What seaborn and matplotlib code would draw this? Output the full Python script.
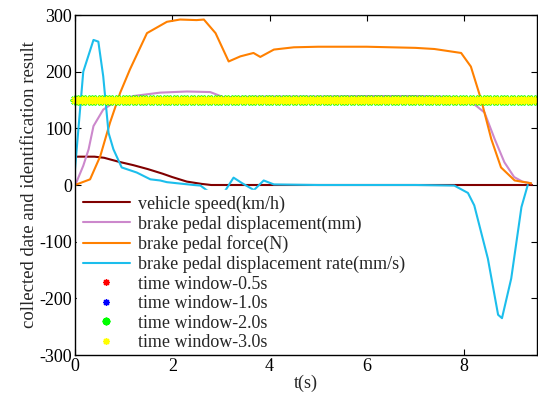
import numpy as np
import matplotlib
matplotlib.use("Agg")
import matplotlib.pyplot as plt
import seaborn as sns

# ---- data ----
speed_t = [0, 0.4, 0.6, 0.9, 1.2, 1.5, 1.8, 2.0, 2.3, 2.6, 2.8, 9.4]
speed_v = [50, 50, 48, 41, 35, 28, 20, 14, 6, 2, 0, 0]

disp_t = [0, 0.03, 0.17, 0.28, 0.38, 0.58, 0.79, 1.2, 1.75, 2.3, 2.78, 3.05, 4.0, 5.0,
          6.0, 7.0, 7.87, 8.1, 8.42, 8.63, 8.83, 9.03, 9.2, 9.38]
disp_v = [0, 5, 34, 63, 104, 133, 145, 157, 163, 165, 164, 155, 156, 156,
          157, 157, 155, 150, 128, 81, 40, 14, 6, 3]

force_t = [0, 0.31, 0.52, 0.72, 0.93, 1.13, 1.48, 1.89, 2.16, 2.5, 2.65, 2.89, 3.16, 3.4,
           3.67, 3.81, 4.09, 4.5, 5.0, 5.5, 6.0, 6.5, 7.0, 7.39, 7.94, 8.14, 8.35, 8.56,
           8.76, 9.04, 9.38]
force_v = [0, 10, 51, 110, 163, 204, 268, 288, 292, 291, 292, 268, 218, 227,
           233, 226, 239, 243, 244, 244, 244, 243, 242, 240, 233, 209, 151, 81,
           31, 8, 3]

rate_t = [0, 0.17, 0.38, 0.48, 0.58, 0.69, 0.79, 0.96, 1.27, 1.55, 1.75, 1.89, 2.44, 2.58,
          2.72, 2.9, 3.09, 3.26, 3.44, 3.68, 3.88, 4.09, 5.0, 6.0, 7.0, 7.8, 8.08, 8.21,
          8.49, 8.7, 8.78, 8.97, 9.18, 9.31]
rate_v = [28, 200, 256, 253, 192, 92, 63, 31, 22, 10, 8, 5, 0, -1,
          -10, -15, -10, 13, 3, -9, 8, 1, 0, 0, 0, -1, -14, -36,
          -130, -229, -235, -165, -39, 0]

window_labels = ["time window-0.5s", "time window-1.0s", "time window-2.0s", "time window-3.0s"]
window_colors = ["#FF0000", "#0000FF", "#00FF00", "#FFFF00"]
window_level = 150
window_t = np.arange(0, 9.52, 0.07)

x_ticks = [0, 2, 4, 6, 8]
y_ticks = [-300, -200, -100, 0, 100, 200, 300]

# ---- styling ----
sns.set_style("ticks")
plt.rcParams["font.family"] = ["Liberation Serif", "DejaVu Serif"]
plt.rcParams["axes.unicode_minus"] = False
FS = 13

fig = plt.figure(figsize=(5.38, 4.01), dpi=100)
ax = fig.add_axes([75 / 538, 1 - 355 / 401, (537 - 75) / 538, (355 - 15) / 401])

sns.lineplot(x=speed_t, y=speed_v, color="#800000", lw=1.5, sort=False,
             label="vehicle speed(km/h)", ax=ax)
sns.lineplot(x=disp_t, y=disp_v, color="#CC88CC", lw=1.5, sort=False,
             label="brake pedal displacement(mm)", ax=ax)
sns.lineplot(x=force_t, y=force_v, color="#FF8000", lw=1.5, sort=False,
             label="brake pedal force(N)", ax=ax)
sns.lineplot(x=rate_t, y=rate_v, color="#1CBEEC", lw=1.5, sort=False,
             label="brake pedal displacement rate(mm/s)", ax=ax)

asterisk = (8, 2, 0)
for lab, col, ms, mw in zip(window_labels, window_colors, [6, 6, 7, 6], [1.0, 1.0, 1.4, 1.1]):
    sns.lineplot(x=window_t, y=[window_level] * len(window_t), color=col,
                 marker=asterisk, linestyle="", markersize=ms, markeredgecolor=col,
                 markeredgewidth=mw, label=lab, ax=ax, clip_on=False)

ax.set_xlim(0, 9.5)
ax.set_ylim(-300, 300)
ax.set_xticks(x_ticks)
ax.set_yticks(y_ticks)
ax.tick_params(direction="in", top=True, right=True, length=4, width=0.8,
               labelsize=FS, colors="black", pad=2)
for s in ax.spines.values():
    s.set_color("black")
    s.set_linewidth(1.0)

ax.set_xlabel("t(s)", fontsize=FS, labelpad=0)
ax.set_ylabel("collected date and identification result", fontsize=13.5, labelpad=1)

leg = ax.legend(loc="upper left", bbox_to_anchor=(0.004, 0.486), borderaxespad=0,
                frameon=True, facecolor="white", edgecolor="white", framealpha=1,
                fontsize=FS, handlelength=2.6, handletextpad=0.45,
                labelspacing=0.14, borderpad=0.32, fancybox=False, markerscale=0.8)
leg.set_zorder(2.4)

fig.savefig("out.png", dpi=100)
